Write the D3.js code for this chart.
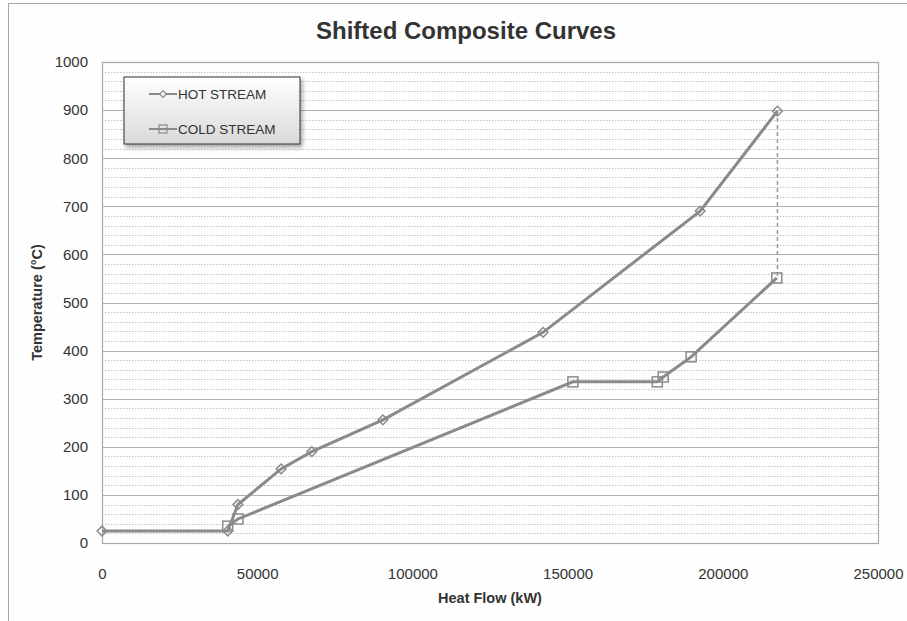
<!DOCTYPE html>
<html>
<head>
<meta charset="utf-8">
<script src="https://cdn.jsdelivr.net/npm/d3@7"></script>
<style>
  body { margin: 0; background: #ffffff; }
  svg { font-family: "Liberation Sans", Arial, sans-serif; }
</style>
</head>
<body>
<div id="chart"></div>
<script>
// Dados das curvas compostas
const hotFlow = [0, 40500, 43800, 57700, 67600, 90500, 142100, 192700, 217600];
const hotTemp = [25, 25, 80, 154, 190, 256, 438, 690, 898];
const coldFlow = [40500, 43800, 151700, 178900, 180800, 189800, 217400];
const coldTemp = [35, 50, 335, 335, 345, 387, 551];
const xTicks = [0, 50000, 100000, 150000, 200000, 250000];
const yTicks = [0, 100, 200, 300, 400, 500, 600, 700, 800, 900, 1000];
const seriesNames = ['HOT STREAM', 'COLD STREAM'];

const W = 907, H = 621;
const margin = { top: 62, right: 29, bottom: 78, left: 102 };
const width = W - margin.left - margin.right;
const height = H - margin.top - margin.bottom;
const lineColor = '#8a8a8a';

const svg = d3.select('#chart').append('svg')
  .attr('width', W).attr('height', H);

// gradiente da legenda
const defs = svg.append('defs');
const grad = defs.append('linearGradient').attr('id', 'legGrad')
  .attr('x1', 0).attr('y1', 0).attr('x2', 0).attr('y2', 1);
grad.append('stop').attr('offset', '0%').attr('stop-color', '#ffffff');
grad.append('stop').attr('offset', '100%').attr('stop-color', '#d9d9d9');
const shadow = defs.append('filter').attr('id', 'shadow')
  .attr('x', '-10%').attr('y', '-10%').attr('width', '130%').attr('height', '140%');
shadow.append('feDropShadow').attr('dx', 2).attr('dy', 3).attr('stdDeviation', 2)
  .attr('flood-color', '#000').attr('flood-opacity', 0.35);

// moldura do gráfico
svg.append('rect')
  .attr('x', 8.5).attr('y', 3.5).attr('width', W + 10).attr('height', H + 10)
  .attr('fill', '#fefefe').attr('stroke', '#a6a6a6');

// título
svg.append('text')
  .attr('x', 466).attr('y', 39)
  .attr('text-anchor', 'middle')
  .style('font-size', '24px').style('font-weight', 'bold').style('fill', '#333')
  .text('Shifted Composite Curves');

const g = svg.append('g').attr('transform', `translate(${margin.left},${margin.top})`);

const x = d3.scaleLinear().domain([0, 250000]).range([0, width]);
const y = d3.scaleLinear().domain([0, 1000]).range([height, 0]);

// grid menor (pontilhado)
const minor = d3.range(0, 1001, 20).filter(v => v % 100 !== 0);
g.append('g').selectAll('line').data(minor).enter().append('line')
  .attr('x1', 0).attr('x2', width)
  .attr('y1', d => Math.round(y(d)) + 0.5).attr('y2', d => Math.round(y(d)) + 0.5)
  .attr('stroke', '#c4c4c4').attr('stroke-width', 1).attr('stroke-dasharray', '1.5,1.5');

// grid maior
g.append('g').selectAll('line').data(yTicks).enter().append('line')
  .attr('x1', 0).attr('x2', width)
  .attr('y1', d => Math.round(y(d)) + 0.5).attr('y2', d => Math.round(y(d)) + 0.5)
  .attr('stroke', '#b0b0b0').attr('stroke-width', 1.2);

// borda da área de plotagem
g.append('rect').attr('x', 0.5).attr('y', 0.5).attr('width', width).attr('height', height)
  .attr('fill', 'none').attr('stroke', '#a8a8a8').attr('stroke-width', 1.2);

// eixos
const xAxis = g.append('g').attr('transform', `translate(0,${height})`)
  .call(d3.axisBottom(x).tickValues(xTicks).tickFormat(d3.format('d')).tickSize(0).tickPadding(25));
const yAxis = g.append('g')
  .call(d3.axisLeft(y).tickValues(yTicks).tickFormat(d3.format('d')).tickSize(0).tickPadding(14));
[xAxis, yAxis].forEach(a => {
  a.select('.domain').remove();
  a.selectAll('text').style('font-size', '15px').style('fill', '#333')
    .style('font-family', '"Liberation Sans", Arial, sans-serif');
});

// títulos dos eixos
svg.append('text')
  .attr('x', margin.left + width / 2).attr('y', 603)
  .attr('text-anchor', 'middle')
  .style('font-size', '14.5px').style('font-weight', 'bold').style('fill', '#333')
  .text('Heat Flow (kW)');
svg.append('text')
  .attr('transform', `translate(42,${margin.top + height / 2}) rotate(-90)`)
  .attr('text-anchor', 'middle')
  .style('font-size', '14.5px').style('font-weight', 'bold').style('fill', '#333')
  .text('Temperature (°C)');

const hot = hotFlow.map((d, i) => ({ q: d, t: hotTemp[i] }));
const cold = coldFlow.map((d, i) => ({ q: d, t: coldTemp[i] }));
const line = d3.line().x(d => x(d.q)).y(d => y(d.t));

// linha tracejada de ΔT no topo
g.append('line')
  .attr('x1', x(hot[hot.length - 1].q)).attr('x2', x(hot[hot.length - 1].q))
  .attr('y1', y(hot[hot.length - 1].t)).attr('y2', y(cold[cold.length - 1].t))
  .attr('stroke', '#999').attr('stroke-width', 1.5).attr('stroke-dasharray', '4,3');

g.append('path').datum(cold).attr('d', line)
  .attr('fill', 'none').attr('stroke', lineColor).attr('stroke-width', 3);
g.append('path').datum(hot).attr('d', line)
  .attr('fill', 'none').attr('stroke', lineColor).attr('stroke-width', 3);

// marcadores
const diamond = d3.symbol().type(d3.symbolDiamond2).size(60);
g.append('g').selectAll('path').data(hot).enter().append('path')
  .attr('d', diamond)
  .attr('transform', d => `translate(${x(d.q)},${y(d.t)})`)
  .attr('fill', 'none').attr('stroke', lineColor).attr('stroke-width', 1.5);
g.append('g').selectAll('rect').data(cold).enter().append('rect')
  .attr('x', d => x(d.q) - 5).attr('y', d => y(d.t) - 5)
  .attr('width', 10).attr('height', 10)
  .attr('fill', 'none').attr('stroke', lineColor).attr('stroke-width', 1.5);

// legenda
const leg = svg.append('g').attr('transform', 'translate(124,77)');
leg.append('rect').attr('width', 176).attr('height', 67)
  .attr('fill', 'url(#legGrad)').attr('stroke', '#333').attr('stroke-width', 1)
  .attr('filter', 'url(#shadow)');
seriesNames.forEach((name, i) => {
  const ly = 17 + i * 35;
  leg.append('line').attr('x1', 25).attr('x2', 53).attr('y1', ly).attr('y2', ly)
    .attr('stroke', lineColor).attr('stroke-width', 2);
  if (i === 0) {
    leg.append('path').attr('d', d3.symbol().type(d3.symbolDiamond2).size(30))
      .attr('transform', `translate(39,${ly})`)
      .attr('fill', '#f5f5f5').attr('stroke', lineColor).attr('stroke-width', 1.2);
  } else {
    leg.append('rect').attr('x', 35).attr('y', ly - 4).attr('width', 8).attr('height', 8)
      .attr('fill', 'none').attr('stroke', lineColor).attr('stroke-width', 1.2);
  }
  leg.append('text').attr('x', 54).attr('y', ly + 5)
    .style('font-size', '13.5px').style('fill', '#333')
    .text(name);
});
</script>
</body>
</html>
